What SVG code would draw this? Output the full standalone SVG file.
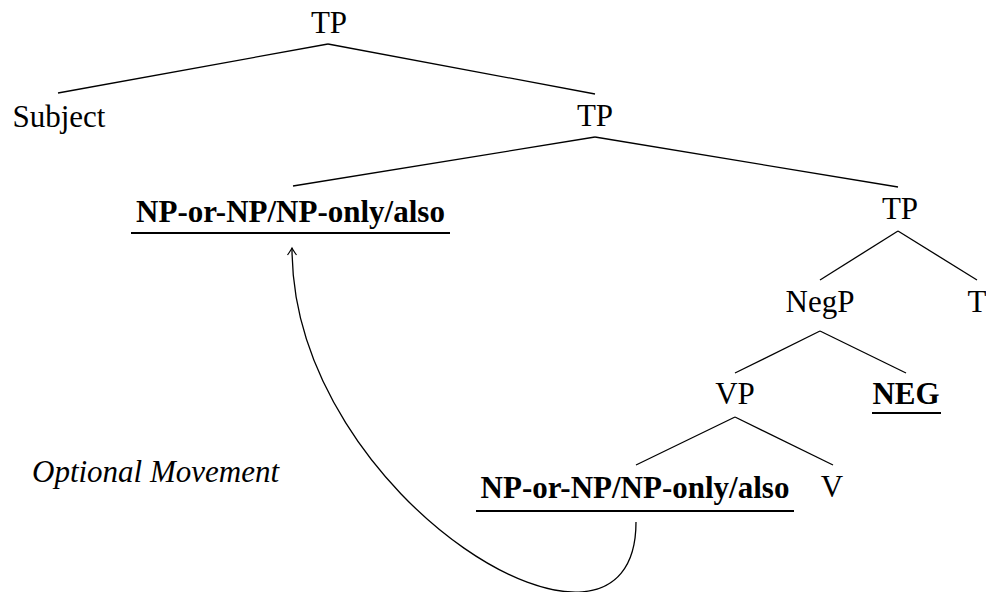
<svg xmlns="http://www.w3.org/2000/svg" width="986" height="592" viewBox="0 0 986 592" font-family="'Liberation Serif', 'DejaVu Serif', serif">
<style>
text{font-family:'Liberation Serif','DejaVu Serif',serif;font-size:31px;fill:#000;text-anchor:middle}
.b{font-weight:bold}
.i{font-style:italic;text-anchor:start}
.e{stroke:#000;stroke-width:1.3;fill:none}
.u{stroke:#000;stroke-width:2;fill:none}
</style>
<defs>
<marker id="arr" markerWidth="12" markerHeight="12" refX="0" refY="6" orient="auto" markerUnits="userSpaceOnUse" viewBox="-10 0 12 12">
<path d="M -7 1.5 Q -2 5 0 6 Q -2 7 -7 10.5" fill="none" stroke="#000" stroke-width="1.2"/>
</marker>
</defs>
<rect width="986" height="592" fill="#fff"/>
<g id="connectors">
<line class="e" x1="328" y1="44" x2="58" y2="93"/>
<line class="e" x1="328" y1="44" x2="595" y2="94"/>
<line class="e" x1="595" y1="137" x2="293" y2="186"/>
<line class="e" x1="595" y1="137" x2="898" y2="187"/>
<line class="e" x1="898" y1="231" x2="820" y2="280"/>
<line class="e" x1="898" y1="231" x2="977" y2="280"/>
<line class="e" x1="820" y1="331" x2="735" y2="373"/>
<line class="e" x1="820" y1="331" x2="906" y2="373"/>
<line class="e" x1="735" y1="417" x2="636" y2="465"/>
<line class="e" x1="735" y1="417" x2="833" y2="465"/>
<path id="movement" class="e" d="M 636 522 C 636 705, 292 500, 292 248" marker-end="url(#arr)"/>
</g>
<g id="tp1"><text x="329" y="33">TP</text></g>
<g id="subject"><text x="59" y="127">Subject</text></g>
<g id="tp2"><text x="595" y="126">TP</text></g>
<g id="np-top"><text class="b" x="290.5" y="222">NP-or-NP/NP-only/also</text><line class="u" x1="131" y1="233" x2="450" y2="233"/></g>
<g id="tp3"><text x="900" y="219">TP</text></g>
<g id="negp"><text x="820" y="312">NegP</text></g>
<g id="t"><text x="977" y="312">T</text></g>
<g id="vp"><text x="735" y="404">VP</text></g>
<g id="neg"><text class="b" x="906" y="404">NEG</text><line class="u" x1="872" y1="413" x2="941" y2="413"/></g>
<g id="np-bottom"><text class="b" x="635" y="498">NP-or-NP/NP-only/also</text><line class="u" x1="476" y1="511" x2="794" y2="511"/></g>
<g id="v"><text x="832" y="497">V</text></g>
<g id="label"><text class="i" x="32" y="482">Optional Movement</text></g>
</svg>
